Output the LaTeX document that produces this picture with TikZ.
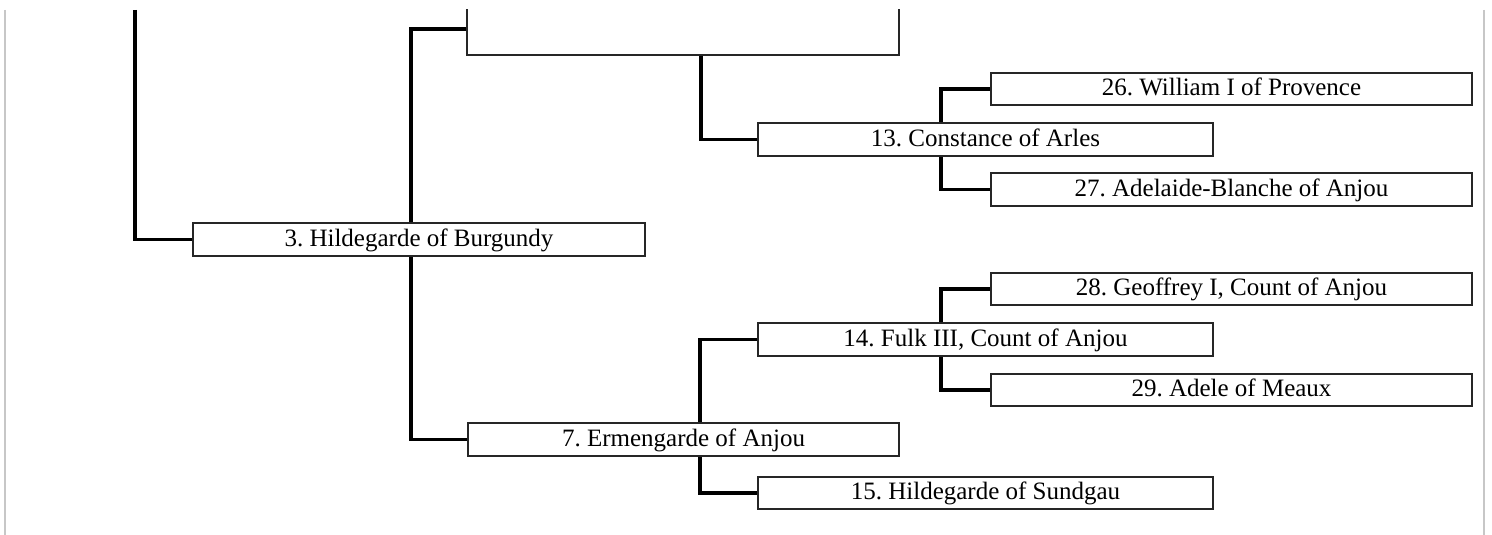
\documentclass[tikz,border=0pt]{standalone}
\usepackage{fontspec}
\setmainfont{Liberation Serif}
\frenchspacing
\usetikzlibrary{positioning}
\pgfdeclarelayer{edgelayer}
\pgfsetlayers{edgelayer,main}
\tikzset{person/.style={draw=black!85,line width=1.6pt,fill=white,inner sep=0pt,
  minimum height=33pt,text height=17pt,text depth=4pt,font=\fontsize{25}{29}\selectfont}}
\tikzstyle{link}=[line width=3.5pt,black]
\tikzstyle{rim}=[line width=2pt,black!22]

\begin{document}
\begin{tikzpicture}[x=1pt,y=-1pt]
\useasboundingbox (0,0) rectangle (1492,535);
\begin{scope}
\clip (0,10) rectangle (1492,535);
\node[person,minimum width=452pt] (n3) at (419,239.5) {3. Hildegarde of Burgundy};
\node[person,minimum width=432pt,minimum height=52pt] (n6) at (683,29) {};
\node[person,minimum width=431pt] (n7) at (683.5,439.5) {7. Ermengarde of Anjou};
\node[person,minimum width=455pt] (n13) at (985.5,139.5) {13. Constance of Arles};
\node[person,minimum width=455pt] (n14) at (985.5,339.5) {14. Fulk III, Count of Anjou};
\node[person,minimum width=455pt,minimum height=32pt] (n15) at (985.5,493) {15. Hildegarde of Sundgau};
\node[person,minimum width=481pt,minimum height=32pt] (n26) at (1231.5,89) {26. William I of Provence};
\node[person,minimum width=481pt] (n27) at (1231.5,189.5) {27. Adelaide-Blanche of Anjou};
\node[person,minimum width=481pt,minimum height=32pt] (n28) at (1231.5,289) {28. Geoffrey I, Count of Anjou};
\node[person,minimum width=481pt,minimum height=32pt] (n29) at (1231.5,390) {29. Adele of Meaux};
\end{scope}
\coordinate (n2) at (135,10);
\coordinate (n12) at (701,10);
\begin{pgfonlayer}{edgelayer}
\draw[rim] (5,10) -- (5,535);
\draw[rim] (1484,10) -- (1484,535);
\draw[link] (n2) |- (n3.west);
\draw[link] (n6.west) -- ++(-55,0) |- (n7.west);
\draw[link] (n12) |- (n13.west);
\draw[link] (n14.west) -- ++(-57,0) |- (n15.west);
\draw[link] (n26.west) -- ++(-49,0) |- (n27.west);
\draw[link] (n28.west) -- ++(-49,0) |- (n29.west);
\end{pgfonlayer}
\end{tikzpicture}
\end{document}
